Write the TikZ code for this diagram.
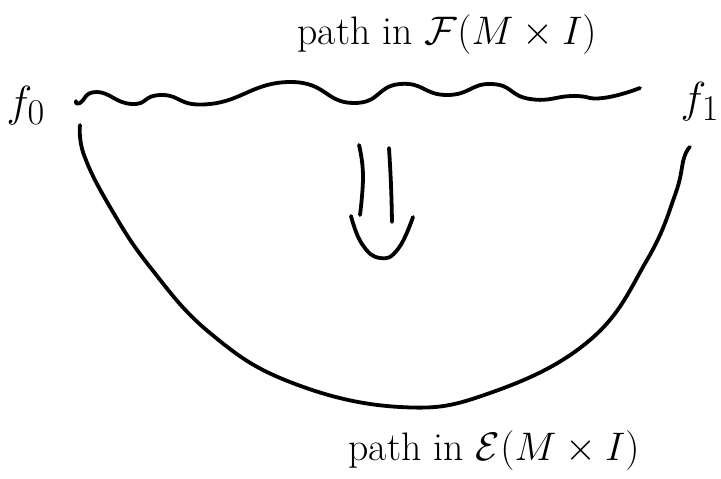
\documentclass[tikz,border=0pt]{standalone}
\usepackage{fontspec}
\newcommand{\bigtxt}[1]{\scalebox{1.6}{\Huge #1}}
\newcommand{\ftxt}[1]{\scalebox{1.75}{\Huge #1}}
\begin{document}
\begin{tikzpicture}[x=1pt,y=-1pt,
  stroke/.style={line width=3.8pt,line cap=round,line join=round},
  lbl/.style={inner sep=0pt,anchor=base}]
\useasboundingbox (0,0) rectangle (721,479);
% labels
\node[lbl] (top) at (447,44) {\bigtxt{path in $\mathcal{F}(M\times I)$}};
\node[lbl] (bot) at (494,460) {\bigtxt{path in $\mathcal{E}(M\times I)$}};
\node[lbl] (f0) at (26,116) {\ftxt{$f_0$}};
\node[lbl] (f1) at (700,112) {\ftxt{$f_1$}};
% wavy path in F
\draw[stroke] plot[smooth,tension=0.9] coordinates {
 (76,101) (80,103) (97,92) (132,104) (162,95) (210,104) (290,82)
 (353,103) (400,84) (447,95) (492,84) (530,99) (573,96) (603,98) (640,88)};
% big path in E
\draw[stroke] plot[smooth,tension=0.7] coordinates {
 (80,125) (84,155) (110,207) (150,267) (210,333) (290,382) (400,407)
 (490,393) (590,340) (647,260) (675,195) (684,158) (690,147)};
% double arrow
\draw[stroke] plot[smooth,tension=0.8] coordinates {(359,145) (363,175) (360,215)};
\draw[stroke] plot[smooth,tension=0.8] coordinates {(389,148) (391,185) (392,222)};
\draw[stroke] plot[smooth,tension=0.8] coordinates {
 (351,216) (362,244) (380,258) (398,249) (413,217)};
\end{tikzpicture}
\end{document}
